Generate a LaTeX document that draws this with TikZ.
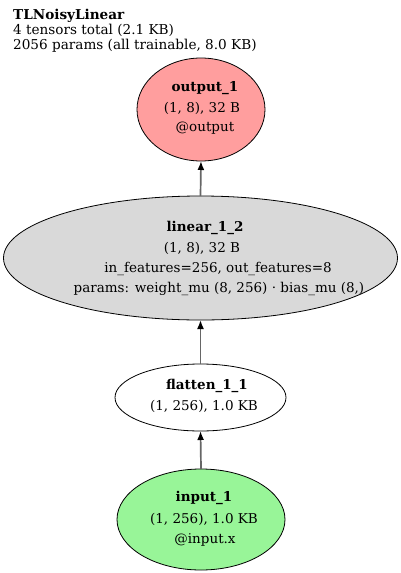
\documentclass[tikz,border=0pt]{standalone}
\usepackage{fontspec}
\setmainfont{DejaVu Serif}
\usetikzlibrary{arrows.meta,shapes.geometric}
\definecolor{outred}{HTML}{FF9E9E}
\definecolor{lingray}{HTML}{D9D9D9}
\definecolor{ingreen}{HTML}{98F598}
\tikzset{
  layer/.style={draw=black, line width=0.8pt, ellipse, inner sep=0pt, outer sep=0pt},
  lbl/.style={inner sep=0pt, anchor=center, font=\fontsize{13.5}{16}\selectfont},
  blbl/.style={lbl, font=\fontsize{13.5}{16}\selectfont\bfseries},
  hdr/.style={inner sep=0pt, anchor=base west, font=\fontsize{13.6}{16}\selectfont},
  flow/.style={draw=black!60, line width=1.7pt, -{Latex[length=9pt,width=7pt,fill=black,color=black]}}
}
\begin{document}
\begin{tikzpicture}[x=1pt,y=-1pt]
\useasboundingbox (0,0) rectangle (400,573);
% header
\node[hdr, font=\fontsize{13.6}{16}\selectfont\bfseries] (title) at (13,19) {TLNoisyLinear};
\node[hdr] (h2) at (13,34) {4 tensors total (2.1 KB)};
\node[hdr] (h3) at (13,49) {2056 params (all trainable, 8.0 KB)};
% ellipses
\node[layer, fill=outred, minimum width=128pt, minimum height=103pt] (out) at (201,109.5) {};
\node[layer, fill=lingray, minimum width=394pt, minimum height=124pt] (lin) at (200.5,258) {};
\node[layer, fill=white, minimum width=171pt, minimum height=67pt] (fla) at (200.5,397.5) {};
\node[layer, fill=ingreen, minimum width=168pt, minimum height=101pt] (inp) at (201,519.5) {};
% labels
\node[blbl] (o1) at (205,88) {output\_1};
\node[lbl] (o2) at (202,108) {(1, 8), 32 B};
\node[lbl] (o3) at (205,128) {@output};
\node[blbl] (l1) at (205,228) {linear\_1\_2};
\node[lbl] (l2) at (202,248) {(1, 8), 32 B};
\node[lbl] (l3) at (218,269) {in\_features=256, out\_features=8};
\node[lbl] (l4) at (219,289) {params: weight\_mu (8, 256) · bias\_mu (8,)};
\node[blbl] (f1) at (207,386) {flatten\_1\_1};
\node[lbl] (f2) at (204,406) {(1, 256), 1.0 KB};
\node[blbl] (i1) at (204,498) {input\_1};
\node[lbl] (i2) at (204,519) {(1, 256), 1.0 KB};
\node[lbl] (i3) at (205,540) {@input.x};
% connectors
\draw[flow] (inp.north) -- (fla.south);
\draw[flow] (fla.north) -- (lin.south);
\draw[flow] (lin.north) -- (out.south);
\end{tikzpicture}
\end{document}
